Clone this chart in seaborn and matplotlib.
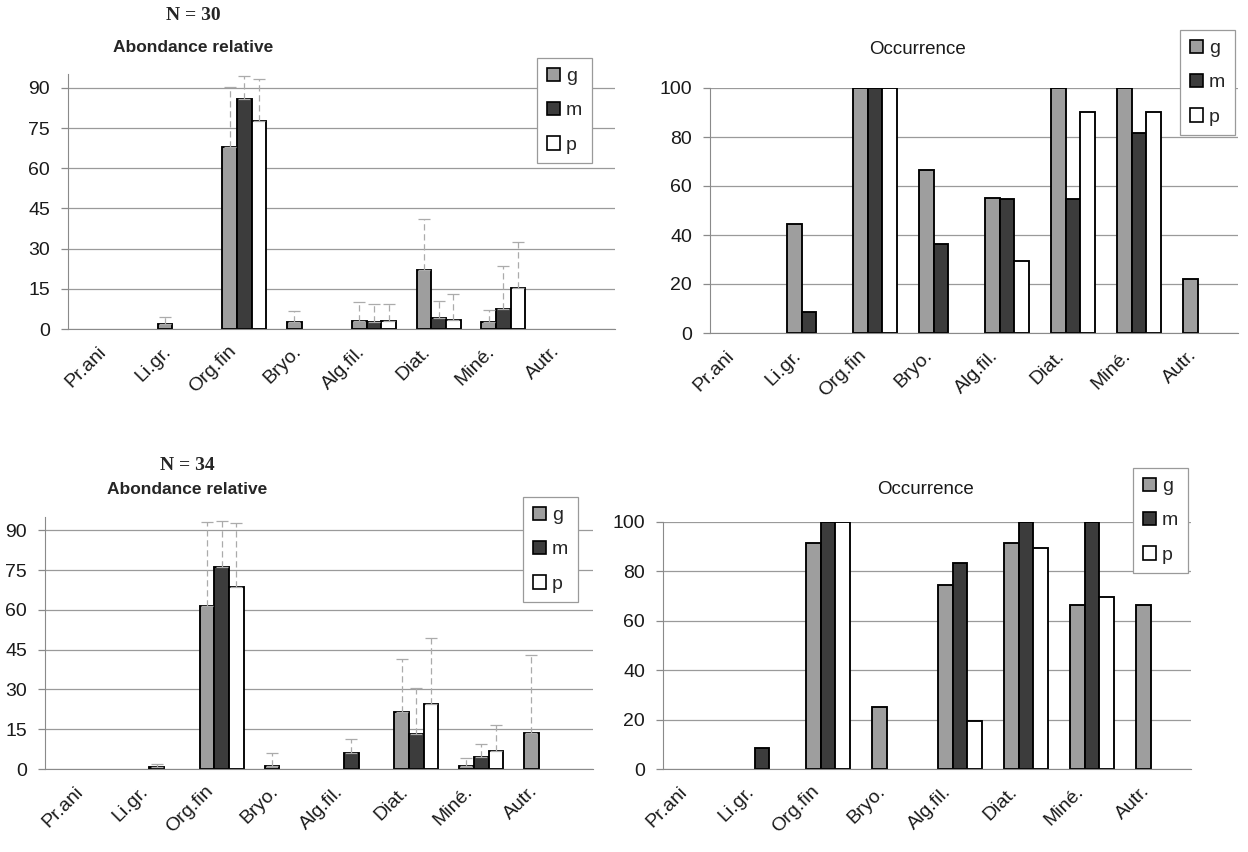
import matplotlib
matplotlib.use("Agg")
import matplotlib.pyplot as plt
import matplotlib.transforms as mtransforms
import seaborn as sns
import pandas as pd
import numpy as np

# ---------------- data ----------------
categories = ["Pr.ani", "Li.gr.", "Org.fin", "Bryo.", "Alg.fil.", "Diat.", "Miné.", "Autr."]
series = ["g", "m", "p"]

# N = 30 : relative abundance (bar value) and upper end of error bar
ab30_g = [0, 2.0, 68.0, 2.5, 3.0, 22.0, 2.5, 0]
ab30_m = [0, 0, 86.0, 0, 2.5, 4.2, 7.3, 0]
ab30_p = [0, 0, 77.5, 0, 3.0, 3.5, 15.3, 0]
ab30_g_top = [0, 4.5, 90.5, 6.8, 10.0, 41.0, 7.2, 0]
ab30_m_top = [0, 0, 94.5, 0, 9.5, 10.5, 23.5, 0]
ab30_p_top = [0, 0, 93.2, 0, 9.5, 13.0, 32.5, 0]

# N = 30 : occurrence
oc30_g = [0, 44.5, 100, 66.7, 55.0, 100, 100, 22.0]
oc30_m = [0, 8.5, 100, 36.4, 54.5, 54.5, 81.8, 0]
oc30_p = [0, 0, 100, 0, 29.5, 90.0, 90.0, 0]

# N = 34 : relative abundance
ab34_g = [0, 0, 61.5, 1.2, 0, 21.3, 1.0, 13.7]
ab34_m = [0, 0.9, 76.2, 0, 5.9, 13.3, 4.7, 0]
ab34_p = [0, 0, 68.5, 0, 0, 24.5, 6.7, 0]
ab34_g_top = [0, 0, 93.0, 5.9, 0, 41.3, 4.0, 42.8]
ab34_m_top = [0, 1.9, 93.6, 0, 11.2, 30.5, 9.3, 0]
ab34_p_top = [0, 0, 92.8, 0, 0, 49.4, 16.4, 0]

# N = 34 : occurrence
oc34_g = [0, 0, 91.7, 25.0, 74.4, 91.3, 66.3, 66.3]
oc34_m = [0, 8.3, 100, 0, 83.3, 100, 100, 0]
oc34_p = [0, 0, 100, 0, 19.6, 89.3, 69.6, 0]

ab_ticks = [0, 15, 30, 45, 60, 75, 90]
oc_ticks = [0, 20, 40, 60, 80, 100]

# ---------------- style ----------------
sns.set_style("white")
plt.rcParams["font.family"] = ["Liberation Sans", "DejaVu Sans"]

palette = {"g": "#9e9e9e", "m": "#3c3c3c", "p": "#ffffff"}
W, H = 1248, 852
fig = plt.figure(figsize=(W / 100, H / 100), dpi=100)
fig.patch.set_facecolor("white")


def px_rect(left, right, top, bottom):
    return [left / W, 1 - bottom / H, (right - left) / W, (bottom - top) / H]


def panel(rect, g, m, p, ylim, yticks, legend_xy, tops=None):
    ax = fig.add_axes(rect)
    df = pd.DataFrame({
        "cat": categories * 3,
        "val": list(g) + list(m) + list(p),
        "ser": ["g"] * len(g) + ["m"] * len(m) + ["p"] * len(p),
    })
    sns.barplot(data=df, x="cat", y="val", hue="ser", order=categories,
                hue_order=series, palette=palette, edgecolor="black",
                linewidth=1.35, width=0.68, errorbar=None, ax=ax, zorder=2)
    for patch in ax.patches:
        if patch.get_height() == 0:
            patch.set_linewidth(0)
    if tops is not None:
        for cont, vals, tp in zip(ax.containers, (g, m, p), tops):
            xs, ys, up = [], [], []
            for bar, v, t in zip(cont, vals, tp):
                if t > v:
                    xs.append(bar.get_x() + bar.get_width() / 2)
                    ys.append(v)
                    up.append(t - v)
            if xs:
                eb = ax.errorbar(xs, ys, yerr=[np.zeros(len(up)), up], fmt="none",
                                 ecolor="#ababab", elinewidth=0.9, capsize=4,
                                 capthick=0.9, zorder=3, clip_on=False)
                eb[2][0].set_linestyle((0, (5, 3)))
    ax.set_ylim(*ylim)
    ax.set_yticks(yticks)
    ax.set_xticks(range(len(categories)))
    ax.set_xticklabels(categories, rotation=45, ha="right", va="top",
                       rotation_mode="anchor")
    ax.set_xlabel("")
    ax.set_ylabel("")
    ax.yaxis.grid(True, color="#9a9a9a", linewidth=0.9)
    ax.set_axisbelow(True)
    for s in ("top", "right"):
        ax.spines[s].set_visible(False)
    ax.spines["left"].set_color("#8a8a8a")
    ax.spines["bottom"].set_color("#8a8a8a")
    ax.tick_params(axis="y", left=True, length=5, width=0.9, color="#8a8a8a",
                   labelsize=14, labelcolor="#1a1a1a", pad=8)
    ax.tick_params(axis="x", bottom=False, length=0, labelsize=14,
                   labelcolor="#1a1a1a", pad=10)
    # shift rotated category labels to the left (applied after tick_params)
    shift = mtransforms.ScaledTranslation(-0.17, 0.0, fig.dpi_scale_trans)
    for lab in ax.get_xticklabels():
        lab.set_transform(lab.get_transform() + shift)
    handles, labels = ax.get_legend_handles_labels()
    leg = ax.legend(handles, labels, loc="upper left",
                    bbox_to_anchor=(legend_xy[0] / W, 1 - legend_xy[1] / H),
                    bbox_transform=fig.transFigure, frameon=True, fancybox=False,
                    edgecolor="#9a9a9a", framealpha=1, fontsize=14,
                    handlelength=0.7, handleheight=0.7, handletextpad=0.3,
                    labelspacing=0.85, borderpad=0.5, borderaxespad=0)
    leg.get_frame().set_linewidth(0.9)
    for h in leg.legend_handles:
        h.set_edgecolor("black")
        h.set_linewidth(1.2)
    return ax


panel(px_rect(68, 615, 74.5, 329), ab30_g, ab30_m, ab30_p, (0, 95), ab_ticks,
      (537, 58), tops=(ab30_g_top, ab30_m_top, ab30_p_top))
panel(px_rect(710, 1238, 88, 333), oc30_g, oc30_m, oc30_p, (0, 100), oc_ticks,
      (1180, 30))
panel(px_rect(45, 593, 517, 769), ab34_g, ab34_m, ab34_p, (0, 95), ab_ticks,
      (523, 497), tops=(ab34_g_top, ab34_m_top, ab34_p_top))
panel(px_rect(663, 1191, 522, 769), oc34_g, oc34_m, oc34_p, (0, 100), oc_ticks,
      (1133, 468))

# ---------------- titles ----------------
def ftext(x, y, s, **kw):
    fig.text(x / W, 1 - y / H, s, ha="center", va="center", **kw)

ftext(193, 15, "N = 30", family=["Liberation Serif", "DejaVu Serif"], fontweight="bold", fontsize=14)
ftext(193, 47, "Abondance relative", fontweight="bold", fontsize=12.5)
ftext(917, 50, "Occurrence", fontsize=13.5, color="#1a1a1a")
ftext(187, 465, "N = 34", family=["Liberation Serif", "DejaVu Serif"], fontweight="bold", fontsize=14)
ftext(187, 490, "Abondance relative", fontweight="bold", fontsize=12.5)
ftext(925, 490, "Occurrence", fontsize=13.5, color="#1a1a1a")

fig.savefig("out.png", dpi=100, facecolor="white")
